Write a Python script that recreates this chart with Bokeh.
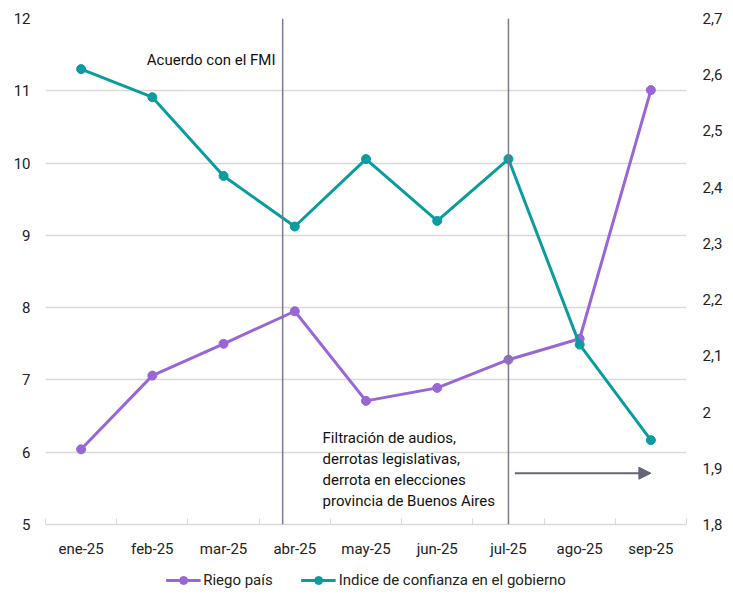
from bokeh.plotting import figure
from bokeh.layouts import column
from bokeh.models import (Range1d, LinearAxis, FixedTicker, CustomJSTickFormatter,
                          Span, Arrow, NormalHead, Legend, LegendItem, Label)
from bokeh.embed import file_html
from bokeh.resources import INLINE

months = ["ene-25", "feb-25", "mar-25", "abr-25", "may-25", "jun-25", "jul-25", "ago-25", "sep-25"]
riesgo_pais = [6.04, 7.06, 7.50, 7.95, 6.71, 6.89, 7.28, 7.57, 11.01]
confianza = [2.61, 2.56, 2.42, 2.33, 2.45, 2.34, 2.45, 2.12, 1.95]
left_ticks = [5, 6, 7, 8, 9, 10, 11, 12]
right_ticks = [1.8, 1.9, 2.0, 2.1, 2.2, 2.3, 2.4, 2.5, 2.6, 2.7]
event_lines = [3.33, 6.5]
series_names = ["Riego país", "Indice de confianza en el gobierno"]

PURPLE = "#9966D6"
TEAL = "#0A9C9F"
FONT = "Roboto"

x = [i + 0.5 for i in range(len(months))]

p = figure(width=725, height=560, output_backend="svg", toolbar_location=None,
           x_range=Range1d(0, 9), y_range=Range1d(5, 12),
           min_border_left=45, min_border_right=39, min_border_top=18, min_border_bottom=36)
p.outline_line_color = None
p.background_fill_color = "white"

p.extra_y_ranges = {"r": Range1d(1.8, 2.7)}

# x axis
p.xaxis.ticker = FixedTicker(ticks=x, minor_ticks=list(range(0, 10)))
p.xaxis.major_label_overrides = {v: m for v, m in zip(x, months)}
p.xaxis.major_tick_line_color = None
p.xaxis.major_tick_out = 0
p.xaxis.major_tick_in = 0
p.xaxis.minor_tick_in = 6
p.xaxis.minor_tick_out = 0
p.xaxis.minor_tick_line_color = "#D9D9D9"
p.xaxis.axis_line_color = "#D9D9D9"
p.xaxis.axis_line_width = 1.5
p.xaxis.major_label_text_font = FONT
p.xaxis.major_label_text_font_size = "15px"
p.xaxis.major_label_text_color = "#222222"
p.xaxis.major_label_standoff = 15

# left axis
p.yaxis.ticker = FixedTicker(ticks=left_ticks)
p.yaxis.axis_line_color = None
p.yaxis.major_tick_line_color = None
p.yaxis.major_tick_out = 0
p.yaxis.minor_tick_line_color = None
p.yaxis.major_label_text_font = FONT
p.yaxis.major_label_text_font_size = "15px"
p.yaxis.major_label_text_color = "#222222"
p.yaxis.major_label_standoff = 15

ax_r = LinearAxis(y_range_name="r", ticker=FixedTicker(ticks=right_ticks),
                  formatter=CustomJSTickFormatter(code="var s=(Math.round(tick*10)/10).toString(); return s.replace('.', ',');"))
ax_r.axis_line_color = None
ax_r.major_tick_line_color = None
ax_r.major_tick_out = 0
ax_r.minor_tick_line_color = None
ax_r.major_label_text_font = FONT
ax_r.major_label_text_font_size = "15px"
ax_r.major_label_text_color = "#222222"
ax_r.major_label_standoff = 16
p.add_layout(ax_r, "right")

p.xgrid.grid_line_color = None
p.ygrid.ticker = FixedTicker(ticks=left_ticks)
p.ygrid.grid_line_color = "#D9D9D9"
p.ygrid.grid_line_width = 1.5

for xv in event_lines:
    p.add_layout(Span(location=xv, dimension="height", line_color="#7B7A91", line_width=1.5))

p.line(x, riesgo_pais, line_color=PURPLE, line_width=3)
p.scatter(x, riesgo_pais, size=9, fill_color=PURPLE, line_color=PURPLE)
p.line(x, confianza, line_color=TEAL, line_width=3, y_range_name="r")
p.scatter(x, confianza, size=9, fill_color=TEAL, line_color=TEAL, y_range_name="r")

p.add_layout(Arrow(end=NormalHead(size=12, fill_color="#64647A", line_color="#64647A"),
                   x_start=6.59, y_start=5.71, x_end=8.5, y_end=5.71,
                   line_color="#64647A", line_width=2))

p.add_layout(Label(x=3.23, y=11.42, text="Acuerdo con el FMI", text_align="right",
                   text_baseline="middle", text_font=FONT, text_font_size="15px",
                   text_color="#111111"))

lines = ["Filtración de audios,", "derrotas legislativas,", "derrota en elecciones",
         "provincia de Buenos Aires"]
for i, t in enumerate(lines):
    p.add_layout(Label(x=3.89, y=6.2 - i * 0.29, text=t, text_align="left",
                       text_baseline="middle", text_font=FONT, text_font_size="15px",
                       text_color="#111111"))

# legend in its own strip below the chart (sample glyphs lie outside the visible range)
lg = figure(width=725, height=40, output_backend="svg", toolbar_location=None,
            x_range=Range1d(0, 1), y_range=Range1d(0, 1), min_border=0)
lg.axis.visible = False
lg.grid.visible = False
lg.outline_line_color = None
hidden = [-10, -9]
r1 = [lg.line(hidden, hidden, line_color=PURPLE, line_width=3),
      lg.scatter(hidden, hidden, size=9, fill_color=PURPLE, line_color=PURPLE)]
r2 = [lg.line(hidden, hidden, line_color=TEAL, line_width=3),
      lg.scatter(hidden, hidden, size=9, fill_color=TEAL, line_color=TEAL)]
legend = Legend(items=[LegendItem(label=series_names[0], renderers=r1),
                       LegendItem(label=series_names[1], renderers=r2)],
                orientation="horizontal", location="center",
                label_text_font=FONT, label_text_font_size="15px", label_text_color="#222222",
                border_line_color=None, background_fill_alpha=0, glyph_width=35, glyph_height=20,
                spacing=28, label_standoff=3, padding=4, margin=0)
lg.add_layout(legend, "center")

layout = column(p, lg, spacing=0)
open("out.html", "w").write(file_html(layout, INLINE))
